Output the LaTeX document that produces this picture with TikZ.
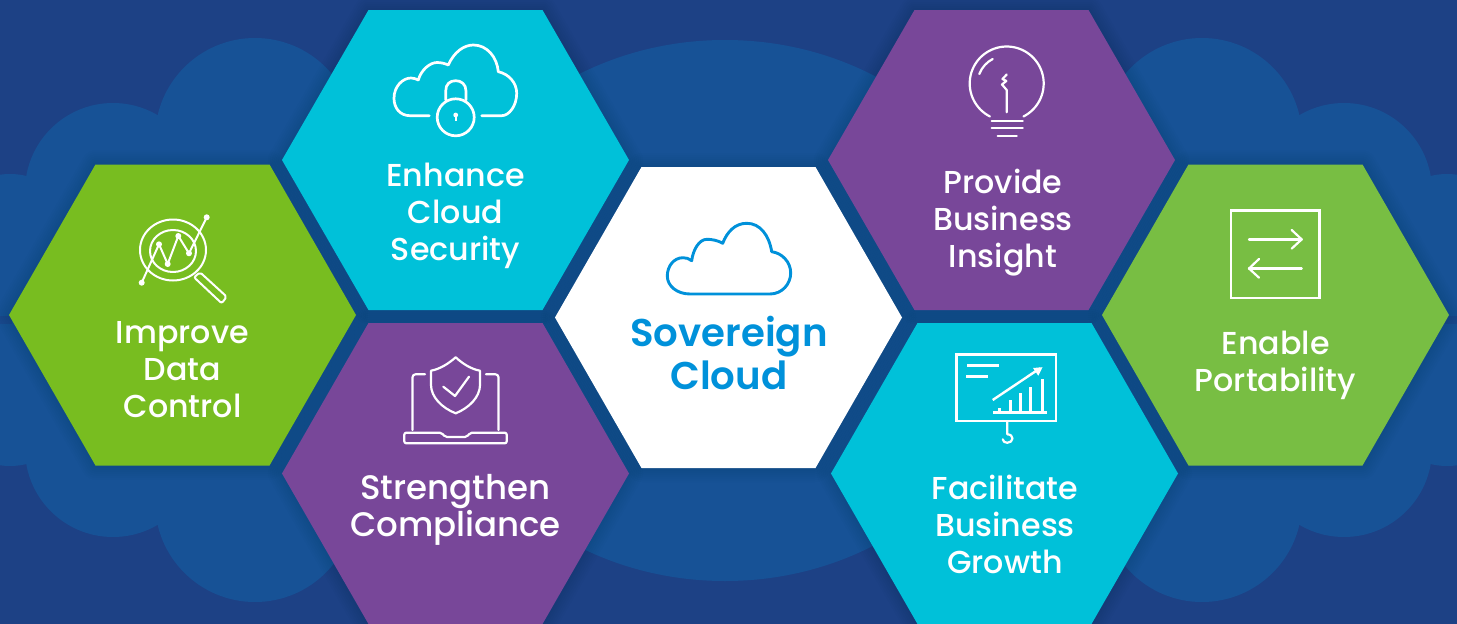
\documentclass[tikz,border=0pt]{standalone}
\usepackage{fontspec}
\setmainfont{Poppins Medium}[BoldFont={Poppins SemiBold}]
\definecolor{bgc}{HTML}{1D4185}
\definecolor{cloudc}{HTML}{175296}
\definecolor{grn}{HTML}{78BD20}
\definecolor{grnb}{HTML}{78BE43}
\definecolor{cyn}{HTML}{00C1D9}
\definecolor{pur}{HTML}{784799}
\definecolor{sky}{HTML}{0091DA}
\tikzset{
 lbl/.style={text=white,align=center,font=\fontsize{31.7}{37}\selectfont},
 lblb/.style={text=white,align=center,font=\fontsize{34}{37}\selectfont},
 ttl/.style={text=sky,align=center,font=\fontsize{38.7}{43}\selectfont\bfseries},
 ico/.style={draw=white,line width=2.2pt,line cap=round,line join=round},
 icob/.style={draw=white,line width=2.7pt,line cap=round,line join=round},
 icot/.style={draw=white,line width=2pt,line cap=round,line join=round},
}
\newcommand{\hexpath}[3]{(#1-173.5,#2) -- (#1-87,#2-#3) -- (#1+87,#2-#3) -- (#1+173.5,#2) -- (#1+87,#2+#3) -- (#1-87,#2+#3) -- cycle}
\newcommand{\hexshadow}[3]{\foreach \w in {4,8,...,28}{\draw[draw=black!70!bgc,opacity=.016,line width=\w pt,line join=round] \hexpath{#1}{#2}{#3};}}
\begin{document}
\begin{tikzpicture}[x=1pt,y=-1pt]
\useasboundingbox (0,0) rectangle (1457,624);
\fill[bgc] (0,0) rectangle (1457,624);
% clouds
\begin{scope}[cloudc]
 \fill (255,138) circle [radius=100];
 \fill (255,502) circle [radius=100];
 \fill (113,191) circle [radius=88];
 \fill (113,449) circle [radius=88];
 \fill (10,320) ellipse [x radius=100,y radius=146];
 \fill (30,180) -- (160,115) -- (340,100) -- (340,540) -- (160,525) -- (30,460) -- cycle;
 \fill (1202,138) circle [radius=100];
 \fill (1202,502) circle [radius=100];
 \fill (1344,191) circle [radius=88];
 \fill (1344,449) circle [radius=88];
 \fill (1447,320) ellipse [x radius=100,y radius=146];
 \fill (1427,180) -- (1297,115) -- (1117,100) -- (1117,540) -- (1297,525) -- (1427,460) -- cycle;
 \fill (725,310.5) ellipse [x radius=300,y radius=270.5];
 \fill (300,250) rectangle (1200,390);
\end{scope}
\fill[bgc!50!cloudc] (0,316) rectangle (12,324);
\fill[bgc!50!cloudc] (1445,316) rectangle (1457,324);
% shadows
\hexshadow{182.5}{315}{150.5}
\hexshadow{455.5}{160}{150}
\hexshadow{455.5}{473.5}{150.5}
\hexshadow{728.5}{317.5}{150.5}
\hexshadow{1001.5}{160}{150}
\hexshadow{1004.5}{473.5}{150.5}
\hexshadow{1275.5}{315}{150.5}
% hexagons
\fill[grn] \hexpath{182.5}{315}{150.5};
\fill[cyn] \hexpath{455.5}{160}{150};
\fill[pur] \hexpath{455.5}{473.5}{150.5};
\fill[white] \hexpath{728.5}{317.5}{150.5};
\fill[pur] \hexpath{1001.5}{160}{150};
\fill[cyn] \hexpath{1004.5}{473.5}{150.5};
\fill[grnb] \hexpath{1275.5}{315}{150.5};
% labels
\node[lbl] (improve) at (182.5,370) {Improve\\Data\\Control};
\node[lbl] (enhance) at (455.5,216) {Enhance\\Cloud\\Security};
\node[lblb] (strength) at (455.5,509.5) {Strengthen\\Compliance};
\node[ttl] (sov) at (729,352.5) {Sovereign\\Cloud};
\node[lbl] (provide) at (1003,222.5) {Provide\\Business\\Insight};
\node[lbl] (facil) at (1005,524) {Facilitate\\Business\\Growth};
\node[lbl] (enable) at (1275.5,365) {Enable\\Portability};
% magnifier
\draw[icot] (173,250) ellipse [x radius=33,y radius=30.5];
\draw[icot] (173,251) ellipse [x radius=23,y radius=21];
\draw[icot] (141.7,282.7) -- (159,244.3) -- (167.7,264) -- (178.3,236) -- (189,253.3) -- (206.7,217.3);
\foreach \p in {(141.7,282.7),(159,244.3),(167.7,264),(178.3,236),(189,253.3),(206.7,217.3)}
 \fill[white] \p circle [radius=3];
\draw[icot,rounded corners=2pt] (194,277.3) -- (200,272.3) -- (226.7,296.7) -- (221.7,303.3) -- cycle;
% cloud lock
\draw[icob] (429.3,115.7) -- (410,115.7) .. controls (400,115.7) and (394,108) .. (394,98.3)
 .. controls (394,86) and (403,78) .. (411,78) .. controls (414,78) and (416,79) .. (418.3,80)
 .. controls (421,70) and (430,62.5) .. (437,62.5) .. controls (441,62.5) and (445,63.5) .. (448.3,65)
 .. controls (454,52) and (464,45) .. (473.3,45) .. controls (487,45) and (497,57) .. (498.3,71.7)
 .. controls (509,74) and (516.7,83) .. (516.7,93.3) .. controls (516.7,106) and (509,115.7) .. (501.7,115.7) -- (481.7,115.7);
\draw[icob] (455.7,117.3) circle [radius=18.5];
\draw[icob] (445.7,100) -- (445.7,91) .. controls (445.7,84) and (450,80.7) .. (455.7,80.7) .. controls (461,80.7) and (466,84) .. (466,91) -- (466,100);
\fill[white] (455.7,115) circle [radius=2.4];
\draw[white,line width=1.6pt] (455.7,115) -- (455.7,121);
% shield laptop
\draw[ico] (455.7,357.3) .. controls (448,364) and (440,369) .. (431,370.7) -- (431,385) .. controls (431,397) and (442,408) .. (455.7,413.3)
 .. controls (469,408) and (480,397) .. (480,385) -- (480,370.7) .. controls (471,369) and (463,364) .. (455.7,357.3) -- cycle;
\draw[ico] (443.3,386.7) -- (455,396) -- (469,376.7);
\draw[ico,rounded corners=3pt] (425,374.3) -- (412.5,374.3) -- (412.5,430);
\draw[ico,rounded corners=3pt] (486,374.3) -- (498.5,374.3) -- (498.5,430);
\draw[ico,rounded corners=2pt] (404.3,432.7) -- (441.7,432.7) -- (445,437) -- (467,437) -- (470,432.7) -- (506.7,432.7) -- (506.7,443.3) -- (404.3,443.3) -- cycle;
% chart
\draw[white,line width=2.5pt] (956.7,354.3) rectangle (1056,421);
\draw[white,line width=2.6pt] (967.3,365.3) -- (999,365.3);
\draw[white,line width=2.6pt] (966,376.7) -- (988,376.7);
\draw[white,line width=2.4pt] (992.7,400) -- (1040,368.3);
\fill[white] (1042.5,367.2) -- (1033,368) -- (1038.3,375.7) -- cycle;
\draw[white,line width=2.6pt] (993.3,412.7) -- (1046.7,412.7);
\foreach \bx/\by in {999.3/408.3,1010.7/400,1020.7/393.3,1030.7/386.7,1042.3/379}
 \draw[white,line width=2.6pt] (\bx,412) -- (\bx,\by);
\draw[ico] (1007.3,422) -- (1007.3,434.3) .. controls (1010.5,434.5) and (1012.5,436) .. (1012.5,438.5) .. controls (1012.5,441) and (1010,442.8) .. (1007.3,442.8) .. controls (1005,442.8) and (1003,441.5) .. (1002.7,439.3);
% bulb
\draw[ico] plot[domain=117:423,samples=70,smooth] ({1006.7+37*cos(\x)},{83.5+37*sin(\x)});
\draw[ico] (979.3,74) .. controls (982,67) and (987,62) .. (992.7,59);
\draw[ico] (1006.7,74.5) -- (1002.5,79) -- (1006.3,81) -- (1002,84.5) -- (1006.7,90) -- (1006.7,112.3);
\draw[ico] (991.7,121) -- (1022.7,121);
\draw[ico] (991.7,128.3) -- (1022.7,128.3);
\draw[ico] (997.7,135.7) -- (1016.7,135.7);
% arrows box
\draw[white,line width=2.4pt] (1231,210.4) rectangle (1319.3,298);
\draw[ico] (1249,239.4) -- (1301.7,239.4);
\draw[ico] (1291.7,230) -- (1301.7,239.4) -- (1291.7,248.6);
\draw[ico] (1301.7,268.5) -- (1249,268.5);
\draw[ico] (1259,259) -- (1249,268.5) -- (1259,277.7);
% centre cloud
\draw[draw=sky,line width=2.9pt,line join=round] (690,294) -- (770,294) .. controls (782,294) and (790.7,284) .. (790.7,273)
 .. controls (790.7,262) and (782,253) .. (771.7,251.7) .. controls (769,235) and (760,223.3) .. (746.7,223.3)
 .. controls (735,223.3) and (727,232) .. (722.7,243.3) .. controls (718,240.5) and (712,239.3) .. (707,239.3)
 .. controls (699,239.3) and (693,250) .. (691.7,260.7) .. controls (689,258.5) and (686,257.7) .. (683,257.7)
 .. controls (674,257.7) and (667.3,266) .. (667.3,276) .. controls (667.3,286) and (677,294) .. (690,294) -- cycle;
\end{tikzpicture}
\end{document}
